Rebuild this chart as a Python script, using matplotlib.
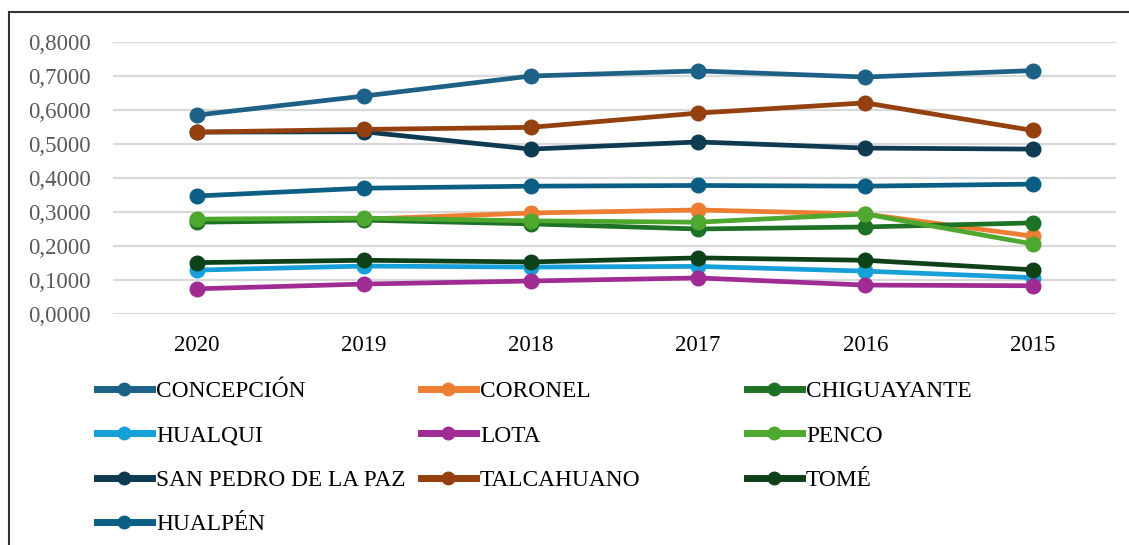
import matplotlib
matplotlib.use("Agg")
import matplotlib.pyplot as plt
from matplotlib.lines import Line2D

years = ["2020", "2019", "2018", "2017", "2016", "2015"]

concepcion = [0.585, 0.641, 0.700, 0.715, 0.697, 0.716]
coronel = [0.276, 0.279, 0.297, 0.306, 0.294, 0.229]
chiguayante = [0.270, 0.276, 0.265, 0.250, 0.256, 0.268]
hualqui = [0.129, 0.141, 0.138, 0.140, 0.126, 0.107]
lota = [0.074, 0.088, 0.097, 0.106, 0.085, 0.083]
penco = [0.279, 0.282, 0.274, 0.270, 0.294, 0.206]
san_pedro = [0.535, 0.536, 0.485, 0.506, 0.488, 0.485]
talcahuano = [0.535, 0.543, 0.549, 0.591, 0.621, 0.540]
tome = [0.151, 0.158, 0.153, 0.165, 0.158, 0.130]
hualpen = [0.347, 0.370, 0.376, 0.378, 0.376, 0.382]

names = ["CONCEPCIÓN", "CORONEL", "CHIGUAYANTE", "HUALQUI", "LOTA", "PENCO",
         "SAN PEDRO DE LA PAZ", "TALCAHUANO", "TOMÉ", "HUALPÉN"]
series = [concepcion, coronel, chiguayante, hualqui, lota, penco,
          san_pedro, talcahuano, tome, hualpen]
colors = ["#1E6187", "#ED7D31", "#1E7226", "#15A0D8", "#A02B93", "#4EA72E",
          "#0E3A52", "#94400F", "#0F4119", "#0C5F84"]

plt.rcParams["font.family"] = ["Liberation Serif", "DejaVu Serif"]

fig = plt.figure(figsize=(11.29, 5.45), dpi=100)
ax = fig.add_axes([0.1001, 0.4239, 0.8885, 0.499])

x = list(range(len(years)))
lines = {}
for name, vals, col in zip(names, series, colors):
    ln, = ax.plot(x, vals, color=col, lw=3.4, marker="o", ms=10.5,
                  solid_capstyle="round", label=name)
    lines[name] = ln

ax.set_xlim(-0.5, 5.5)
ax.set_ylim(0, 0.8)
ax.set_yticks([i / 10 for i in range(9)])
ax.set_yticklabels([f"0,{i}000" for i in range(9)])
ax.set_xticks(x)
ax.set_xticklabels(years)
ax.tick_params(axis="y", length=0, pad=16, labelsize=16.5, labelcolor="#595959")
ax.tick_params(axis="x", length=0, pad=15, labelsize=16.5, labelcolor="black")
ax.grid(axis="y", color="#d9d9d9", lw=1.6)
ax.set_axisbelow(True)
for s in ax.spines.values():
    s.set_visible(False)

# outer frame (only top and left edges visible)
fig.add_artist(Line2D([0.008, 1.0], [0.978, 0.978], color="#333333", lw=1.5))
fig.add_artist(Line2D([0.008, 0.008], [0.0, 0.978], color="#333333", lw=1.5))

columns = [["CONCEPCIÓN", "HUALQUI", "SAN PEDRO DE LA PAZ", "HUALPÉN"],
           ["CORONEL", "LOTA", "TALCAHUANO"],
           ["CHIGUAYANTE", "PENCO", "TOMÉ"]]
col_x = [97, 421, 747]
for cx, col in zip(col_x, columns):
    handles = [Line2D([], [], color=lines[n].get_color(), lw=5, marker="o", ms=9)
               for n in col]
    fig.legend(handles, col, loc="upper left",
               bbox_to_anchor=(cx / 1129, 1 - 381 / 545),
               frameon=False, fontsize=16.8, handlelength=2.35,
               handletextpad=0.18, labelspacing=0.98, borderpad=0,
               borderaxespad=0)

fig.savefig("out.png", dpi=100)
